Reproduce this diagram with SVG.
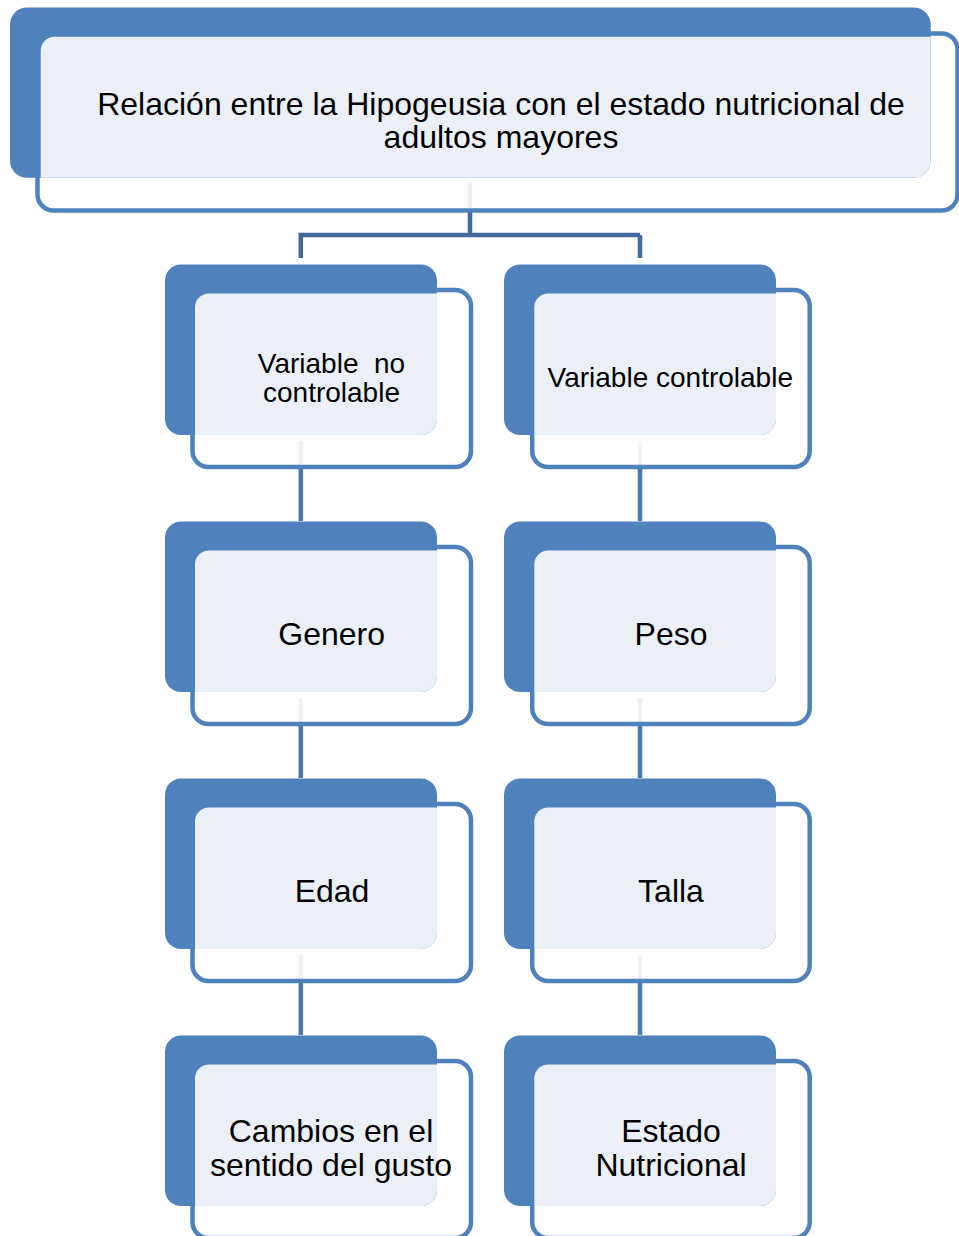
<svg xmlns="http://www.w3.org/2000/svg" width="959" height="1236" viewBox="0 0 959 1236">
<style>
.ol{fill:#fff;fill-opacity:0.9;stroke:#4f81bd;stroke-width:4.5}
.bk{fill:#4f81bd}
.lt{fill:#ebf0f8}
.cn{fill:none;stroke:#4a78b3;stroke-width:4.5}
.cn0{fill:none;stroke:#41699b;stroke-width:4.5}
text{font-family:"Liberation Sans",Arial,sans-serif;fill:#000;text-anchor:middle}
.t{font-size:32px}
.s{font-size:28px}
</style>
<rect width="959" height="1236" fill="#fff"/>
<g id="connectors">
<path class="cn0" d="M470 183V235H300.8V258M640 235V258M470 235H640"/>
<path class="cn" d="M300.8 441V521M300.8 698V778M300.8 955V1035M640 441V521M640 698V778M640 955V1035"/>
</g>
<g id="n0">
<rect class="ol" x="37.5" y="33.5" width="920" height="177" rx="16"/>
<rect class="bk" x="10" y="7.5" width="920.7" height="170.2" rx="17"/>
<path class="lt" d="M40.7 50.7A14 14 0 0 1 54.7 36.7H930.7V160.7A17 17 0 0 1 913.7 177.7H40.7Z"/>
<text class="t" x="501" y="115">Relación entre la Hipogeusia con el estado nutricional de</text>
<text class="t" x="501" y="148">adultos mayores</text>
</g>
<g id="n1">
<rect class="ol" x="192.5" y="290" width="278.5" height="177" rx="16"/>
<rect class="bk" x="165" y="264.5" width="272" height="170.5" rx="16"/>
<path class="lt" d="M195 307.5A14 14 0 0 1 209 293.5H437V419A16 16 0 0 1 421 435H195Z"/>
<text class="s" x="331.5" y="373.3" xml:space="preserve">Variable  no</text>
<text class="s" x="331.5" y="401.7">controlable</text>
</g>
<g id="n2">
<rect class="ol" x="532.2" y="290" width="277.5" height="177" rx="16"/>
<rect class="bk" x="504" y="264.5" width="272" height="170.5" rx="16"/>
<path class="lt" d="M534.3 307.5A14 14 0 0 1 548.3 293.5H776V419A16 16 0 0 1 760 435H534.3Z"/>
<text class="s" x="670.3" y="387.3">Variable controlable</text>
</g>
<g id="n3">
<rect class="ol" x="192.5" y="547" width="278.5" height="177" rx="16"/>
<rect class="bk" x="165" y="521.5" width="272" height="170.5" rx="16"/>
<path class="lt" d="M195 564.5A14 14 0 0 1 209 550.5H437V676A16 16 0 0 1 421 692H195Z"/>
<text class="t" x="331.7" y="645">Genero</text>
</g>
<g id="n4">
<rect class="ol" x="532.2" y="547" width="277.5" height="177" rx="16"/>
<rect class="bk" x="504" y="521.5" width="272" height="170.5" rx="16"/>
<path class="lt" d="M534.3 564.5A14 14 0 0 1 548.3 550.5H776V676A16 16 0 0 1 760 692H534.3Z"/>
<text class="t" x="671" y="645">Peso</text>
</g>
<g id="n5">
<rect class="ol" x="192.5" y="804" width="278.5" height="177" rx="16"/>
<rect class="bk" x="165" y="778.5" width="272" height="170.5" rx="16"/>
<path class="lt" d="M195 821.5A14 14 0 0 1 209 807.5H437V933A16 16 0 0 1 421 949H195Z"/>
<text class="t" x="332" y="902.3">Edad</text>
</g>
<g id="n6">
<rect class="ol" x="532.2" y="804" width="277.5" height="177" rx="16"/>
<rect class="bk" x="504" y="778.5" width="272" height="170.5" rx="16"/>
<path class="lt" d="M534.3 821.5A14 14 0 0 1 548.3 807.5H776V933A16 16 0 0 1 760 949H534.3Z"/>
<text class="t" x="671" y="902.3">Talla</text>
</g>
<g id="n7">
<rect class="ol" x="192.5" y="1061" width="278.5" height="177" rx="16"/>
<rect class="bk" x="165" y="1035.5" width="272" height="170.5" rx="16"/>
<path class="lt" d="M195 1078.5A14 14 0 0 1 209 1064.5H437V1190A16 16 0 0 1 421 1206H195Z"/>
<text class="t" x="331" y="1141.7">Cambios en el</text>
<text class="t" x="331" y="1176">sentido del gusto</text>
</g>
<g id="n8">
<rect class="ol" x="532.2" y="1061" width="277.5" height="177" rx="16"/>
<rect class="bk" x="504" y="1035.5" width="272" height="170.5" rx="16"/>
<path class="lt" d="M534.3 1078.5A14 14 0 0 1 548.3 1064.5H776V1190A16 16 0 0 1 760 1206H534.3Z"/>
<text class="t" x="671" y="1141.7">Estado</text>
<text class="t" x="671" y="1176">Nutricional</text>
</g>
</svg>
